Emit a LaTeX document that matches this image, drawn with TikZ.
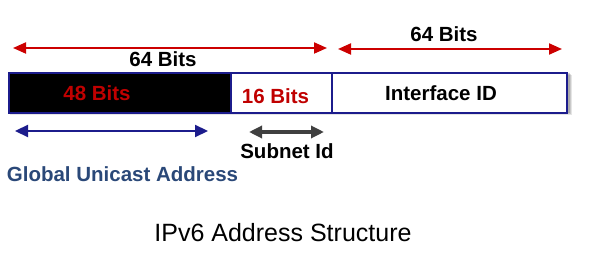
\documentclass[tikz,border=0pt]{standalone}
\usepackage{fontspec}
\setmainfont{Liberation Sans}
\usetikzlibrary{arrows.meta}
\definecolor{arrred}{HTML}{CC0000}
\definecolor{txtred}{HTML}{C00000}
\definecolor{navy}{HTML}{1C1C8C}
\definecolor{gua}{HTML}{2A4878}
\definecolor{darkgray}{HTML}{404040}
\tikzset{
  lbl/.style={inner sep=0pt, font=\fontsize{20.5}{22}\selectfont\bfseries},
  field/.style={draw=navy, line width=1.6pt, inner sep=0pt, anchor=north west, minimum height=40pt},
  shadowbox/.style={fill=black, inner sep=0pt, anchor=north west, minimum height=40pt},
  redarrow/.style={draw=arrred, line width=2pt, {Triangle[length=13pt,width=11pt]}-{Triangle[length=13pt,width=11pt]}},
  bluearrow/.style={draw=navy, line width=2.2pt, {Triangle[length=13pt,width=12pt]}-{Triangle[length=13pt,width=12pt]}},
  grayarrow/.style={draw=darkgray, line width=3.2pt, {Triangle[length=13pt,width=12pt]}-{Triangle[length=13pt,width=12pt]}}
}
\begin{document}
\begin{tikzpicture}[x=1pt,y=-1pt]
\useasboundingbox (0,0) rectangle (594,261);
% soft shadow
\node[shadowbox, opacity=0.10, minimum width=562pt] (sh1) at (10,75) {};
\node[shadowbox, opacity=0.12, minimum width=560pt] (sh2) at (11,74) {};
\node[shadowbox, opacity=0.15, minimum width=558pt] (sh3) at (12,73) {};
% fields
\node[field, fill=black, minimum width=222pt] (f48) at (8,72) {};
\node[field, fill=white, minimum width=101pt] (f16) at (230,72) {};
\node[field, fill=white, minimum width=235pt] (fid) at (331,72) {};
% labels in fields
\node[lbl, text=txtred] (l48) at (97,93.5) {48 Bits};
\node[lbl, text=txtred] (l16) at (275.5,96.5) {16 Bits};
\node[lbl] (lid) at (441,93.5) {Interface ID};
% top arrows
\coordinate (a1s) at (13,48);
\coordinate (a1e) at (327,48);
\draw[redarrow] (a1s) -- (a1e);
\node[lbl] (t64a) at (163,59) {64 Bits};
\coordinate (a2s) at (338,49);
\coordinate (a2e) at (562,49);
\draw[redarrow] (a2s) -- (a2e);
\node[lbl] (t64b) at (444,34.5) {64 Bits};
% lower arrows
\coordinate (b1s) at (15,131);
\coordinate (b1e) at (208,131);
\draw[bluearrow] (b1s) -- (b1e);
\coordinate (g1s) at (249,132);
\coordinate (g1e) at (324,132);
\draw[grayarrow] (g1s) -- (g1e);
\node[lbl] (sid) at (287,151) {Subnet Id};
\node[lbl, text=gua] (gua) at (122.5,174.5) {Global Unicast Address};
% title
\node[inner sep=0pt, font=\fontsize{25}{28}\selectfont] (title) at (283,232.5) {IPv6 Address Structure};
\end{tikzpicture}
\end{document}
